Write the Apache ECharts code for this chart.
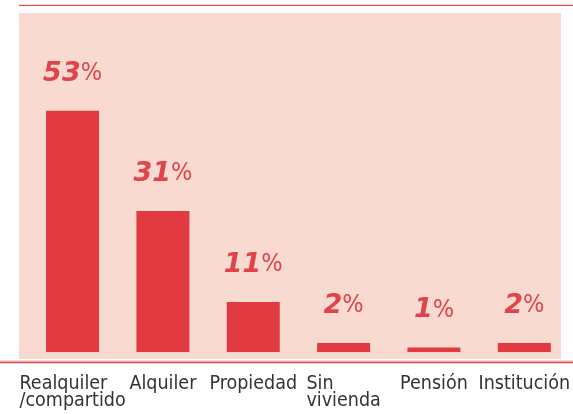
<!DOCTYPE html>
<html>
<head>
<meta charset="utf-8">
<script src="https://cdn.jsdelivr.net/npm/echarts@6/dist/echarts.min.js"></script>
<style>
html,body{margin:0;padding:0;background:#fff;}
#chart{width:573px;height:414px;}
</style>
</head>
<body>
<div id="chart"></div>
<script>
const categories = ['Realquiler\n/compartido', 'Alquiler', 'Propiedad', 'Sin\nvivienda', 'Pensión', 'Institución'];
const values = [53, 31, 11, 2, 1, 2];
const yMax = 60;

const RED = '#e13a40';
const PINK = '#f8dad1';
const LABEL_FONT = '"DejaVu Sans Condensed", "DejaVu Sans", sans-serif';

const chart = echarts.init(document.getElementById('chart'), null, {renderer: 'canvas'});
chart.setOption({
  animation: false,
  backgroundColor: '#fff',
  graphic: [
    {type: 'rect', z: -10, silent: true, shape: {x: 19, y: 13, width: 542, height: 346}, style: {fill: PINK}},
    {type: 'line', z: 10, silent: true, shape: {x1: 19, y1: 5, x2: 573, y2: 5}, style: {stroke: '#f0a8a8', lineWidth: 1}},
    {type: 'line', z: 10, silent: true, shape: {x1: 19, y1: 5.5, x2: 573, y2: 5.5}, style: {stroke: '#dd4a4f', lineWidth: 1}},
    {type: 'line', z: 10, silent: true, shape: {x1: 0, y1: 361, x2: 573, y2: 361}, style: {stroke: '#f0a8a8', lineWidth: 1}},
    {type: 'line', z: 10, silent: true, shape: {x1: 0, y1: 362.5, x2: 573, y2: 362.5}, style: {stroke: '#dd4a4f', lineWidth: 1.5}}
  ],
  grid: {left: 27.4, right: 2.6, top: 79, bottom: 62, containLabel: false},
  xAxis: {
    type: 'category',
    data: categories,
    axisLine: {show: false},
    axisTick: {show: false},
    axisLabel: {
      interval: 0,
      margin: 23,
      formatter: function (v) {
        return v.split('\n').map(function (s) { return '{a|' + s + '}'; }).join('\n');
      },
      rich: {
        a: {fontFamily: LABEL_FONT, fontSize: 19.5, lineHeight: 17.5, color: '#333', align: 'left'}
      }
    }
  },
  yAxis: {
    type: 'value',
    min: 0,
    max: yMax,
    show: false,
    splitLine: {show: false}
  },
  series: [{
    type: 'bar',
    data: values,
    barWidth: 53,
    itemStyle: {color: RED},
    label: {
      show: true,
      position: 'top',
      distance: 22,
      formatter: function (p) { return '{n|' + p.value + '}{p|%}'; },
      rich: {
        n: {fontFamily: '"DejaVu Sans", sans-serif', fontWeight: 'bold', fontStyle: 'italic', fontSize: 27, color: '#e0444a', lineHeight: 30},
        p: {fontFamily: LABEL_FONT, fontSize: 25, color: '#e0444a', lineHeight: 30}
      }
    }
  }]
});
</script>
</body>
</html>
